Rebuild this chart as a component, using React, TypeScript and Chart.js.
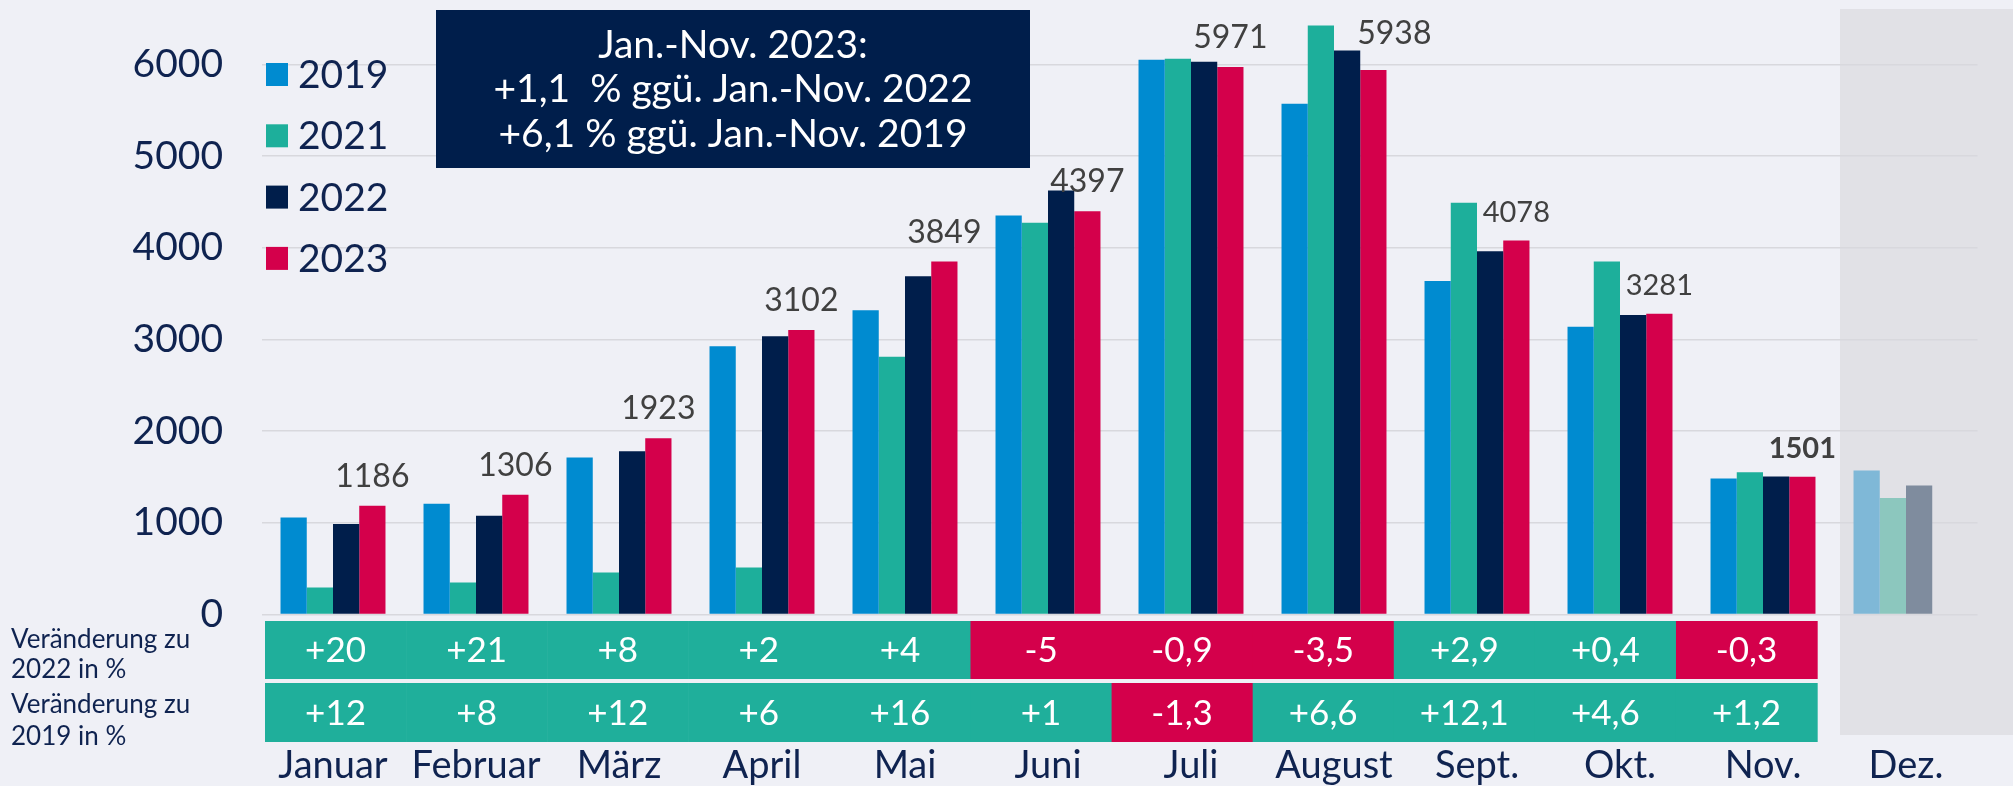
import { useEffect, useRef } from "react";
import { Chart, registerables } from "chart.js";

Chart.register(...registerables);

// ---------- data ----------
const months = ["Januar", "Februar", "März", "April", "Mai", "Juni", "Juli", "August", "Sept.", "Okt.", "Nov.", "Dez."];
const years = ["2019", "2021", "2022", "2023"];
const values2019 = [1059, 1207, 1713, 2926, 3318, 4350, 6050, 5570, 3638, 3137, 1483, 1570];
const values2021 = [294, 349, 458, 513, 2810, 4272, 6060, 6423, 4489, 3849, 1552, 1270];
const values2022 = [986, 1077, 1780, 3035, 3690, 4625, 6028, 6152, 3962, 3266, 1506, 1407];
const values2023 = [1186, 1306, 1923, 3102, 3849, 4397, 5971, 5938, 4078, 3281, 1501, null];
const change2022 = [20, 21, 8, 2, 4, -5, -0.9, -3.5, 2.9, 0.4, -0.3];
const change2019 = [12, 8, 12, 6, 16, 1, -1.3, 6.6, 12.1, 4.6, 1.2];
const yTickValues = [0, 1000, 2000, 3000, 4000, 5000, 6000];
const rowLabels = [["Veränderung zu", "2022 in %"], ["Veränderung zu", "2019 in %"]];
const boxLines = ["Jan.-Nov. 2023:", "+1,1  % ggü. Jan.-Nov. 2022", "+6,1 % ggü. Jan.-Nov. 2019"];
const yMax = 6600;

// ---------- styles ----------
const W = 2013;
const H = 786;
const OFF = 60; // canvas is shifted up by this much
const CH = H + OFF;
const BG = "#EFF0F6";
const SHADE = "#E1E1E6";
const NAVY = "#0F2350";
const C2019 = "#008BD0";
const C2021 = "#1DAF9B";
const C2022 = "#001E4B";
const C2023 = "#D4004B";
const DEZ = ["#7FB8D7", "#8CC7BE", "#7F8C9E"];
const TEAL = "#1FAF9B";
const RED = "#D4004B";
const FONT = "Lato, 'Open Sans', sans-serif";

const fmt = (v: number) => (v > 0 ? "+" : "") + String(v).replace(".", ",");

const overlay = {
  id: "overlay",
  beforeDraw(chart: any) {
    const { ctx } = chart;
    const xs = chart.scales.x;
    ctx.save();
    ctx.fillStyle = BG;
    ctx.fillRect(0, 0, chart.width, chart.height);
    // December shading
    const dezLeft = xs.getPixelForValue(11) - 66;
    ctx.fillStyle = SHADE;
    ctx.fillRect(dezLeft, OFF + 9, chart.width - dezLeft, 726);
    ctx.restore();
  },
  afterDatasetsDraw(chart: any) {
    const { ctx } = chart;
    const meta = chart.getDatasetMeta(3);
    ctx.save();
    ctx.fillStyle = "#404040";
    ctx.textAlign = "center";
    ctx.textBaseline = "alphabetic";
    meta.data.forEach((el: any, i: number) => {
      const v = values2023[i];
      if (v == null) return;
      const dx = i === 7 ? 21 : 0;
      const dy = i === 7 ? 26 : 19;
      if (i >= 8) ctx.font = (i === 10 ? "bold " : "") + "29px " + FONT;
      else ctx.font = "32px " + FONT;
      ctx.fillText(String(v), el.x + dx, el.y - dy);
    });
    ctx.restore();
  },
  afterDraw(chart: any) {
    const { ctx, chartArea } = chart;
    const xs = chart.scales.x;
    ctx.save();

    // change tables
    const colW = (chartArea.right - chartArea.left) / 12 * 0.9867;
    const x0 = chartArea.left + 3.5;
    const rows = [
      { vals: change2022, top: 621, h: 58 },
      { vals: change2019, top: 683, h: 59 },
    ];
    rows.forEach((r) => {
      r.vals.forEach((v, i) => {
        ctx.fillStyle = v < 0 ? RED : TEAL;
        ctx.fillRect(x0 + i * colW, OFF + r.top, colW + 0.6, r.h);
      });
      ctx.fillStyle = "#FFFFFF";
      ctx.font = "35px " + FONT;
      ctx.textAlign = "center";
      ctx.textBaseline = "middle";
      r.vals.forEach((v, i) => {
        ctx.fillText(fmt(v), x0 + (i + 0.5) * colW, OFF + r.top + r.h / 2 + 1);
      });
    });

    // row labels
    ctx.fillStyle = NAVY;
    ctx.font = "26px " + FONT;
    ctx.textAlign = "left";
    ctx.textBaseline = "alphabetic";
    const rowBase = [[648, 678], [713, 745]];
    rowLabels.forEach((lines, r) => {
      lines.forEach((t, j) => ctx.fillText(t, 11, OFF + rowBase[r][j]));
    });

    // month labels
    ctx.font = "38px " + FONT;
    ctx.textAlign = "center";
    months.forEach((m, i) => {
      ctx.fillText(m, xs.getPixelForValue(i), OFF + 778);
    });

    // legend
    const cols = [C2019, C2021, C2022, C2023];
    ctx.font = "39px " + FONT;
    ctx.textAlign = "left";
    years.forEach((y, i) => {
      const base = 88 + i * 61.3;
      ctx.fillStyle = cols[i];
      ctx.fillRect(266, OFF + base - 25, 22, 23);
      ctx.fillStyle = NAVY;
      ctx.fillText(y, 298, OFF + base);
    });

    // annotation box
    ctx.fillStyle = "#001E4B";
    ctx.fillRect(436, OFF + 10, 594, 158);
    ctx.fillStyle = "#FFFFFF";
    ctx.font = "39px " + FONT;
    ctx.textAlign = "center";
    const bases = [58, 102, 147];
    boxLines.forEach((t, i) => ctx.fillText(t, 733, OFF + bases[i]));

    ctx.restore();
  },
};

export default function App() {
  const ref = useRef<HTMLCanvasElement | null>(null);
  useEffect(() => {
    document.body.style.margin = "0";
    document.body.style.background = BG;
    const canvas = ref.current!;
    const perPoint = (base: string, dez: string) => months.map((_, i) => (i === 11 ? dez : base));
    const chart = new Chart(canvas, {
      type: "bar",
      data: {
        labels: months,
        datasets: [
          { label: years[0], data: values2019, backgroundColor: perPoint(C2019, DEZ[0]) },
          { label: years[1], data: values2021, backgroundColor: perPoint(C2021, DEZ[1]) },
          { label: years[2], data: values2022, backgroundColor: perPoint(C2022, DEZ[2]) },
          { label: years[3], data: values2023 as any, backgroundColor: C2023 },
        ],
      },
      options: {
        responsive: false,
        animation: false,
        devicePixelRatio: 1,
        layout: { padding: { left: 0, right: W - 1977.5, top: OFF + 9.3, bottom: CH - (OFF + 614.5) } },
        datasets: { bar: { categoryPercentage: 0.734, barPercentage: 1, borderWidth: 0 } },
        plugins: { legend: { display: false }, tooltip: { enabled: false } },
        scales: {
          x: { display: false },
          y: {
            min: 0,
            max: yMax,
            bounds: "data",
            afterBuildTicks: (s: any) => { s.ticks = yTickValues.map((v) => ({ value: v })); },
            afterFit: (s: any) => { s.width = 261.5; },
            border: { display: false },
            grid: { color: "#D8D8DD", lineWidth: 1.5, drawTicks: false },
            ticks: {
              padding: 38.5,
              color: NAVY,
              font: { family: FONT, size: 39 },
              callback: (v: any) => String(v),
            },
          },
        },
      } as any,
      plugins: [overlay],
    });
    return () => chart.destroy();
  }, []);
  return (
    <div style={{ position: "absolute", left: 0, top: 0, width: W, height: H, overflow: "hidden", background: BG }}>
      <canvas ref={ref} width={W} height={CH} style={{ position: "absolute", left: 0, top: -OFF, width: W, height: CH }} />
    </div>
  );
}
